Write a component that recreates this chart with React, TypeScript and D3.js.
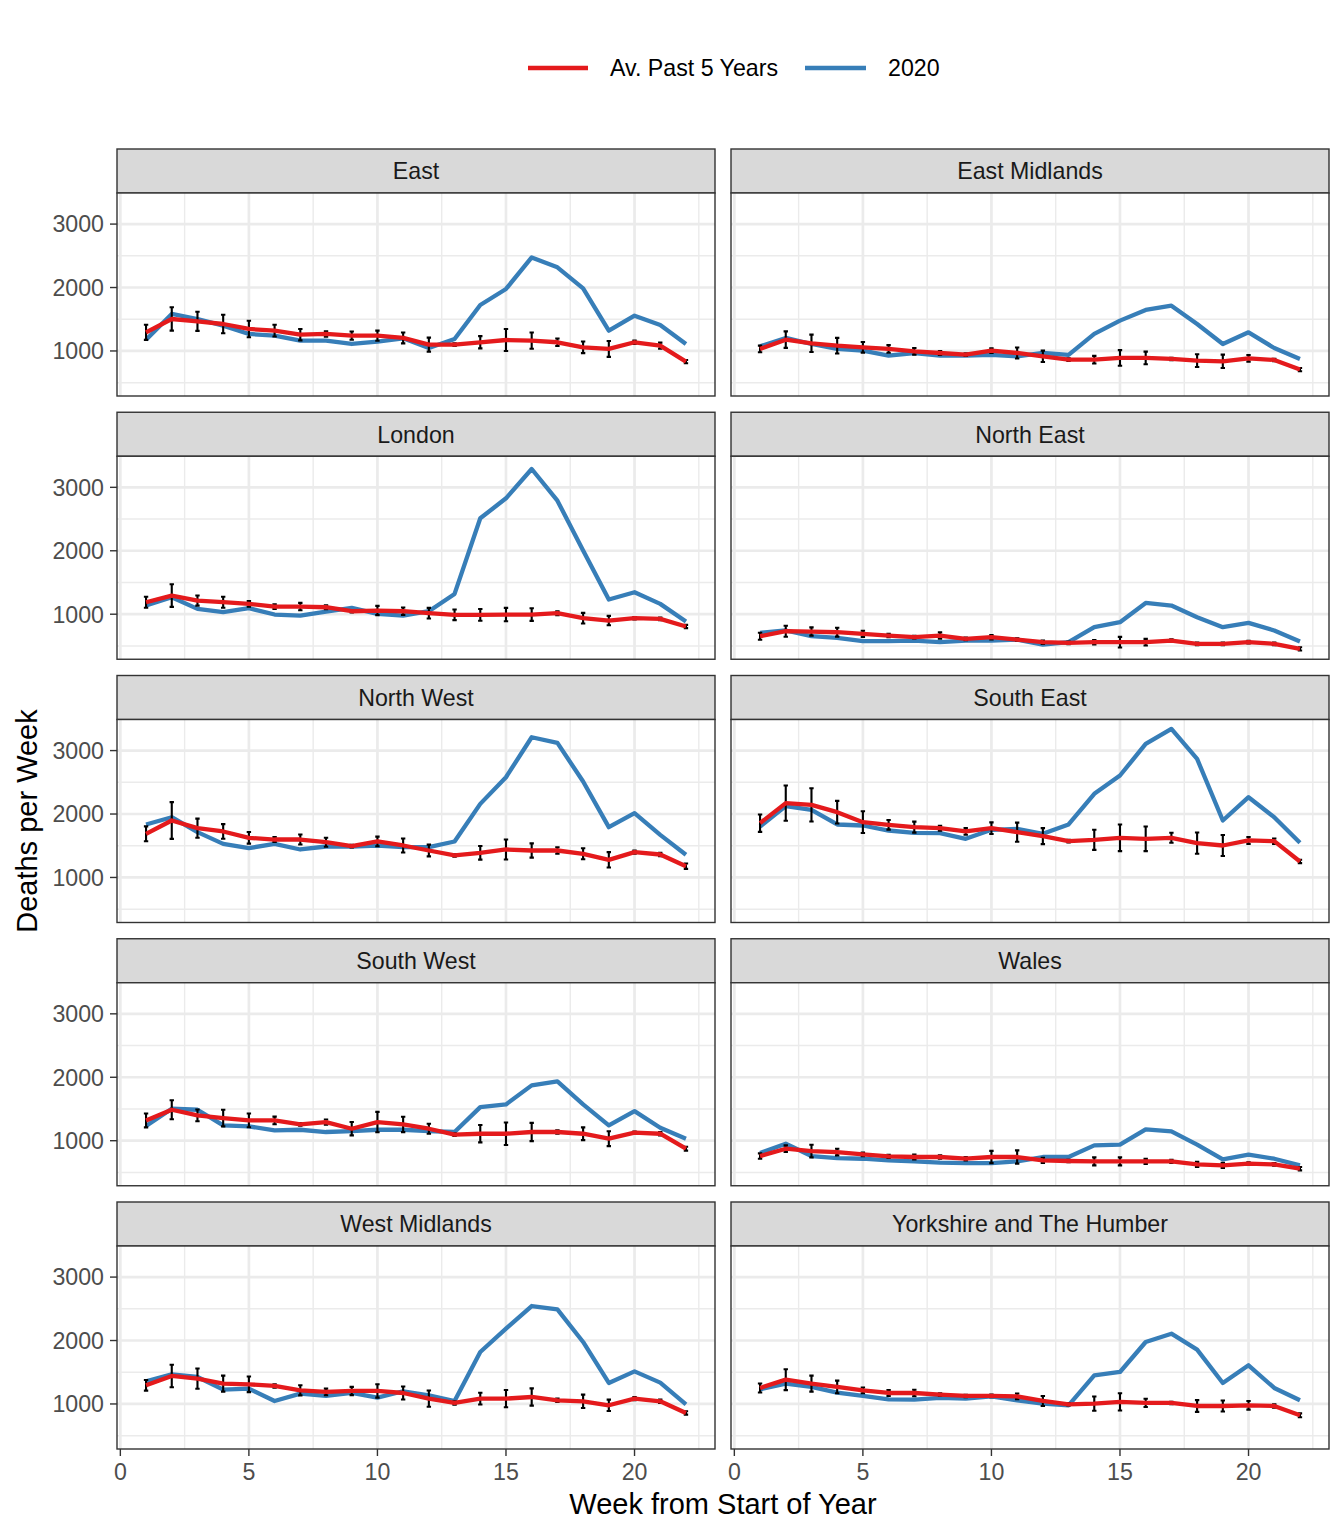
import React from "react";
import * as d3 from "d3";

const weeks = [1, 2, 3, 4, 5, 6, 7, 8, 9, 10, 11, 12, 13, 14, 15, 16, 17, 18, 19, 20, 21, 22];
const regions = ["East", "East Midlands", "London", "North East", "North West", "South East", "South West", "Wales", "West Midlands", "Yorkshire and The Humber"];
const xTicks = [0, 5, 10, 15, 20];
const yTicks = [1000, 2000, 3000];
const legendLabels = ["Av. Past 5 Years", "2020"];

const eastAvg = [1294, 1504, 1467, 1425, 1347, 1320, 1257, 1268, 1241, 1241, 1205, 1100, 1100, 1137, 1173, 1163, 1137, 1058, 1032, 1137, 1084, 832];
const east2020 = [1178, 1583, 1504, 1399, 1268, 1241, 1163, 1163, 1110, 1147, 1200, 1047, 1189, 1725, 1977, 2475, 2318, 1987, 1320, 1556, 1409, 1110];
const eastErr = [120, 184, 150, 145, 130, 92, 90, 42, 65, 80, 85, 110, 20, 97, 173, 128, 60, 92, 126, 26, 47, 26];

const eMidAvg = [1032, 1178, 1121, 1084, 1058, 1032, 995, 968, 942, 1005, 968, 916, 863, 863, 890, 890, 874, 848, 837, 884, 858, 706];
const eMid2020 = [1073, 1205, 1110, 1032, 1005, 926, 968, 926, 926, 937, 916, 968, 937, 1268, 1478, 1646, 1714, 1425, 1110, 1294, 1047, 874];
const eMidErr = [52, 130, 137, 123, 84, 60, 52, 30, 20, 35, 87, 90, 20, 60, 123, 100, 20, 100, 105, 52, 20, 26];

const londonAvg = [1189, 1294, 1215, 1189, 1163, 1121, 1121, 1110, 1047, 1058, 1047, 1016, 990, 990, 995, 995, 1016, 937, 900, 937, 926, 806];
const london2020 = [1137, 1268, 1084, 1032, 1095, 995, 979, 1042, 1100, 1005, 979, 1047, 1320, 2512, 2827, 3289, 2790, 2003, 1231, 1347, 1163, 884];
const londonErr = [87, 178, 79, 87, 45, 37, 58, 31, 20, 73, 58, 84, 84, 92, 105, 100, 31, 84, 73, 20, 20, 26];

const nEastAvg = [653, 732, 727, 716, 690, 664, 638, 664, 611, 638, 601, 559, 548, 559, 559, 559, 585, 533, 533, 559, 533, 454];
const nEast2020 = [706, 743, 653, 627, 575, 575, 585, 559, 585, 585, 601, 522, 559, 795, 874, 1178, 1137, 953, 795, 863, 743, 569];
const nEastErr = [55, 87, 65, 70, 50, 26, 21, 50, 20, 35, 20, 26, 20, 35, 84, 52, 20, 20, 21, 20, 20, 26];

const nWestAvg = [1688, 1898, 1777, 1725, 1625, 1598, 1598, 1556, 1494, 1567, 1504, 1425, 1347, 1389, 1441, 1425, 1425, 1373, 1278, 1399, 1362, 1178];
const nWest2020 = [1835, 1950, 1714, 1530, 1462, 1530, 1441, 1488, 1488, 1504, 1478, 1478, 1567, 2160, 2580, 3210, 3121, 2512, 1793, 2013, 1672, 1357];
const nWestErr = [118, 289, 150, 115, 92, 40, 79, 71, 20, 76, 110, 92, 20, 108, 158, 113, 52, 87, 121, 26, 26, 42];

const sEastAvg = [1856, 2171, 2145, 2029, 1872, 1830, 1793, 1777, 1725, 1777, 1714, 1651, 1572, 1593, 1625, 1609, 1625, 1541, 1504, 1583, 1572, 1252];
const sEast2020 = [1803, 2124, 2066, 1835, 1819, 1740, 1704, 1698, 1609, 1751, 1767, 1688, 1835, 2318, 2607, 3105, 3342, 2869, 1898, 2265, 1950, 1546];
const sEastErr = [137, 278, 262, 178, 171, 76, 87, 39, 52, 92, 150, 126, 20, 158, 210, 194, 79, 168, 165, 55, 42, 26];

const sWestAvg = [1320, 1488, 1399, 1357, 1320, 1320, 1257, 1294, 1189, 1294, 1257, 1189, 1095, 1110, 1110, 1137, 1137, 1110, 1032, 1126, 1110, 874];
const sWest2020 = [1231, 1504, 1488, 1241, 1226, 1163, 1173, 1137, 1152, 1173, 1173, 1152, 1137, 1530, 1572, 1872, 1934, 1572, 1241, 1467, 1205, 1032];
const sWestErr = [110, 150, 92, 131, 108, 60, 20, 40, 105, 160, 121, 79, 20, 137, 178, 144, 26, 100, 118, 20, 26, 31];

const walesAvg = [758, 874, 837, 821, 785, 753, 743, 743, 716, 743, 743, 690, 680, 674, 674, 674, 674, 627, 611, 638, 627, 559];
const wales2020 = [806, 953, 758, 727, 716, 690, 674, 653, 648, 648, 674, 743, 743, 926, 937, 1178, 1147, 937, 706, 779, 716, 611];
const walesErr = [42, 52, 100, 52, 30, 26, 40, 26, 26, 97, 105, 42, 20, 63, 63, 40, 26, 40, 40, 20, 20, 26];

const wMidAvg = [1294, 1441, 1399, 1320, 1310, 1284, 1215, 1189, 1205, 1205, 1173, 1084, 1016, 1084, 1084, 1110, 1058, 1042, 979, 1084, 1042, 858];
const wMid2020 = [1357, 1467, 1425, 1226, 1241, 1047, 1163, 1126, 1173, 1100, 1200, 1137, 1047, 1819, 2187, 2544, 2491, 1977, 1331, 1514, 1336, 995];
const wMidErr = [84, 178, 160, 126, 123, 26, 79, 52, 65, 105, 102, 129, 26, 92, 137, 136, 26, 105, 89, 26, 26, 26];

const yorksAvg = [1252, 1383, 1320, 1268, 1215, 1173, 1173, 1147, 1126, 1126, 1121, 1047, 995, 1005, 1032, 1016, 1016, 968, 968, 979, 968, 821];
const yorks2020 = [1231, 1320, 1268, 1178, 1126, 1073, 1068, 1095, 1084, 1121, 1058, 1005, 979, 1452, 1504, 1977, 2108, 1856, 1331, 1609, 1252, 1058];
const yorksErr = [71, 165, 126, 100, 45, 45, 52, 21, 20, 21, 45, 79, 20, 113, 136, 65, 20, 92, 87, 68, 26, 31];

const avgSeries = [eastAvg, eMidAvg, londonAvg, nEastAvg, nWestAvg, sEastAvg, sWestAvg, walesAvg, wMidAvg, yorksAvg];
const y2020Series = [east2020, eMid2020, london2020, nEast2020, nWest2020, sEast2020, sWest2020, wales2020, wMid2020, yorks2020];
const errSeries = [eastErr, eMidErr, londonErr, nEastErr, nWestErr, sEastErr, sWestErr, walesErr, wMidErr, yorksErr];

const RED = "#E41A1C";
const BLUE = "#377EB8";
const FONT = "'Liberation Sans', Arial, Helvetica, sans-serif";

const W = 1344;
const H = 1536;
const colLeft = [117, 731];
const panelW = 598;
const firstStripTop = 149;
const rowPitch = 263.25;
const stripH = 44;
const panelH = 203;
const SMALL = 23.2;
const BIG = 29;

export default function App() {
  const x = d3.scaleLinear().domain([-0.13, 23.13]).range([0, panelW]);
  const y = d3.scaleLinear().domain([290, 3490]).range([panelH, 0]);
  const line = d3
    .line<number>()
    .x((_, i) => x(weeks[i]))
    .y((d) => y(d));
  const xMinor = [2.5, 7.5, 12.5, 17.5, 22.5];
  const yMinor = [500, 1500, 2500];
  const capHalf = 0.085;

  return (
    <svg width={W} height={H} style={{ position: "absolute", left: 0, top: 0, background: "#fff" }} fontFamily={FONT}>
      <rect x={0} y={0} width={W} height={H} fill="#fff" />
      <g>
        <line x1={528} x2={588} y1={68} y2={68} stroke={RED} strokeWidth={4.5} />
        <text x={610} y={68} dy="0.36em" fontSize={SMALL} fill="#000">{legendLabels[0]}</text>
        <line x1={805} x2={866} y1={68} y2={68} stroke={BLUE} strokeWidth={4.5} />
        <text x={888} y={68} dy="0.36em" fontSize={SMALL} fill="#000">{legendLabels[1]}</text>
      </g>
      {regions.map((name, i) => {
        const col = i % 2;
        const row = Math.floor(i / 2);
        const left = colLeft[col];
        const stripTop = firstStripTop + row * rowPitch;
        const top = stripTop + stripH;
        const avg = avgSeries[i];
        const cur = y2020Series[i];
        const err = errSeries[i];
        const isBottom = row === 4;
        return (
          <g key={name}>
            <rect x={left} y={stripTop} width={panelW} height={stripH} fill="#D9D9D9" stroke="#333333" strokeWidth={1.4} />
            <text x={left + panelW / 2} y={stripTop + stripH / 2} dy="0.36em" textAnchor="middle" fontSize={SMALL} fill="#1A1A1A">
              {name}
            </text>
            <g transform={`translate(${left},${top})`}>
              <rect x={0} y={0} width={panelW} height={panelH} fill="#fff" />
              {xMinor.map((v) => (
                <line key={"xm" + v} x1={x(v)} x2={x(v)} y1={0} y2={panelH} stroke="#EBEBEB" strokeWidth={1.4} />
              ))}
              {yMinor.map((v) => (
                <line key={"ym" + v} x1={0} x2={panelW} y1={y(v)} y2={y(v)} stroke="#EBEBEB" strokeWidth={1.4} />
              ))}
              {xTicks.map((v) => (
                <line key={"xg" + v} x1={x(v)} x2={x(v)} y1={0} y2={panelH} stroke="#EBEBEB" strokeWidth={2.7} />
              ))}
              {yTicks.map((v) => (
                <line key={"yg" + v} x1={0} x2={panelW} y1={y(v)} y2={y(v)} stroke="#EBEBEB" strokeWidth={2.7} />
              ))}
              <path d={line(cur) || ""} fill="none" stroke={BLUE} strokeWidth={4.3} strokeLinejoin="round" />
              {weeks.map((w, j) => {
                const cx = x(w);
                const y1 = y(avg[j] - err[j]);
                const y2 = y(avg[j] + err[j]);
                const xa = x(w - capHalf);
                const xb = x(w + capHalf);
                return (
                  <path
                    key={"e" + w}
                    d={`M${xa},${y2}H${xb}M${cx},${y2}V${y1}M${xa},${y1}H${xb}`}
                    fill="none"
                    stroke="#000"
                    strokeWidth={2.1}
                  />
                );
              })}
              <path d={line(avg) || ""} fill="none" stroke={RED} strokeWidth={4.3} strokeLinejoin="round" />
              <rect x={0} y={0} width={panelW} height={panelH} fill="none" stroke="#333333" strokeWidth={1.4} />
              {col === 0 &&
                yTicks.map((v) => (
                  <g key={"yt" + v}>
                    <line x1={-7} x2={0} y1={y(v)} y2={y(v)} stroke="#333333" strokeWidth={1.4} />
                    <text x={-13} y={y(v)} dy="0.36em" textAnchor="end" fontSize={SMALL} fill="#4D4D4D">
                      {v}
                    </text>
                  </g>
                ))}
              {isBottom &&
                xTicks.map((v) => (
                  <g key={"xt" + v}>
                    <line x1={x(v)} x2={x(v)} y1={panelH} y2={panelH + 7} stroke="#333333" strokeWidth={1.4} />
                    <text x={x(v)} y={panelH + 23} dy="0.36em" textAnchor="middle" fontSize={SMALL} fill="#4D4D4D">
                      {v}
                    </text>
                  </g>
                ))}
            </g>
          </g>
        );
      })}
      <text x={723} y={1504} dy="0.36em" textAnchor="middle" fontSize={BIG} fill="#000">
        Week from Start of Year
      </text>
      <text transform={`translate(27,821) rotate(-90)`} dy="0.36em" textAnchor="middle" fontSize={BIG} fill="#000">
        Deaths per Week
      </text>
    </svg>
  );
}
